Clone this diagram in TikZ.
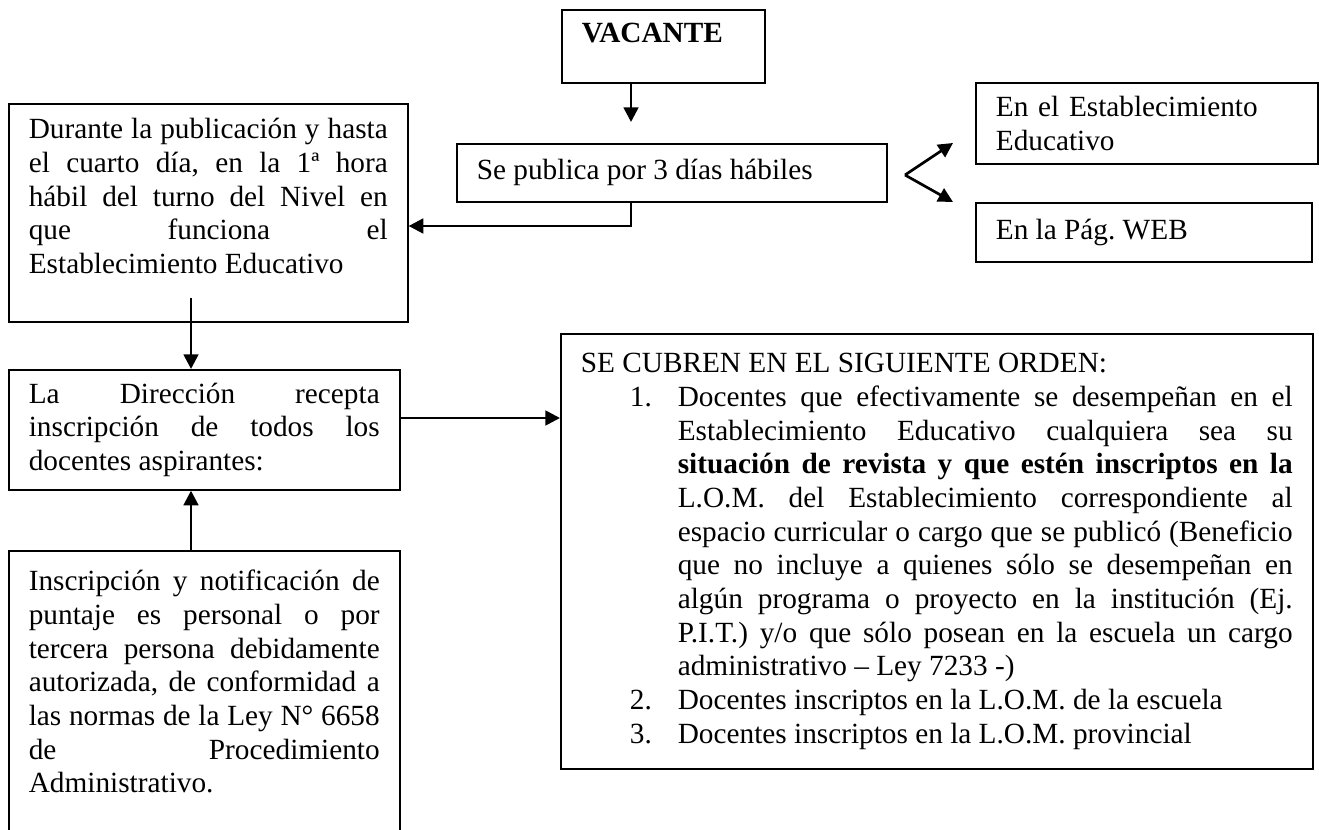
\documentclass[tikz,border=0pt]{standalone}
\usepackage{fontspec}
\setmainfont{Liberation Serif}
\usetikzlibrary{arrows.meta}
\hyphenpenalty=10000
\exhyphenpenalty=10000
\frenchspacing
\newcounter{ordn}

\begin{document}
\begin{tikzpicture}[x=0.0144cm,y=-0.0144cm,
	caja/.style={draw, line width=0.7pt, anchor=north west, inner xsep=0.288cm, inner ysep=0.1cm, font=\fontsize{12}{13.8}\selectfont, align=justify},
	flecha/.style={line width=1.1pt, -{Triangle[length=6pt,width=6pt]}}]
	\useasboundingbox (0,0) rectangle (1319,830);

	\node[caja, text width=2.347cm, text height=0.475cm, text depth=0.576cm, inner ysep=0pt, font=\bfseries\fontsize{12}{13.8}\selectfont] (vac) at (561,9) {VACANTE};
	\node[caja, text width=5.616cm, minimum height=0.835cm] (pub) at (456,143) {Se publica por 3 días hábiles};
	\node[caja, text width=4.349cm, minimum height=1.166cm, align=left] (est) at (975,82) {En el Establecimiento\\Educativo};
	\node[caja, text width=4.262cm, minimum height=0.85cm] (web) at (975,202) {En la Pág. WEB};
	\node[caja, text width=5.170cm, minimum height=3.139cm] (dur) at (8,103) {Durante la publicación y hasta\linebreak el cuarto día, en la 1ª hora\linebreak hábil del turno del Nivel en\linebreak que funciona el\linebreak Establecimiento Educativo\par\mbox{}};
	\node[caja, text width=5.054cm, minimum height=1.728cm] (dir) at (8,369) {La Dirección recepta\linebreak inscripción de todos los\linebreak docentes aspirantes:};
	\node[caja, text width=5.054cm, minimum height=4.248cm] (ins) at (8,550) {Inscripción y notificación de\linebreak puntaje es personal o por\linebreak tercera persona debidamente\linebreak autorizada, de conformidad a\linebreak las normas de la Ley N° 6658\linebreak de Procedimiento\linebreak Administrativo.\par\mbox{}};
	\node[caja, text width=10.253cm, minimum height=6.264cm] (ord) at (560,333) {SE CUBREN EN EL SIGUIENTE ORDEN:
		\begin{list}{\arabic{ordn}.\hfill}{\usecounter{ordn}\setlength{\leftmargin}{1.397cm}\setlength{\labelwidth}{0.691cm}\setlength{\labelsep}{0pt}\setlength{\itemsep}{0pt}\setlength{\topsep}{0pt}\setlength{\parsep}{0pt}\setlength{\partopsep}{0pt}}
		\item Docentes que efectivamente se desempeñan en el\linebreak Establecimiento Educativo cualquiera sea su\linebreak \textbf{situación de revista y que estén inscriptos en la}\linebreak L.O.M. del Establecimiento correspondiente al\linebreak espacio curricular o cargo que se publicó (Beneficio\linebreak que no incluye a quienes sólo se desempeñan en\linebreak algún programa o proyecto en la institución (Ej.\linebreak P.I.T.) y/o que sólo posean en la escuela un cargo\linebreak administrativo – Ley 7233 -)
		\item Docentes inscriptos en la L.O.M. de la escuela
		\item Docentes inscriptos en la L.O.M. provincial
		\end{list}};

	\coordinate (eje) at (631,122);
	\coordinate (codo) at (631,226);
	\coordinate (baja) at (191,298);
	\coordinate (sale) at (399,418);
	\coordinate (rama) at (905,175);
	\coordinate (puntaA) at (953,143);
	\coordinate (puntaB) at (953,202);

	\draw[flecha] (vac.south -| eje) -- (eje);
	\draw[flecha] (pub.south -| codo) -- (codo) -- (codo -| dur.east);
	\draw[flecha] (baja) -- (baja |- dir.north);
	\draw[flecha] (ins.north -| baja) -- (baja |- dir.south);
	\draw[flecha] (sale -| dir.east) -- (sale -| ord.west);
	\draw[flecha] (rama) -- (puntaA);
	\draw[flecha] (rama) -- (puntaB);
\end{tikzpicture}
\end{document}
